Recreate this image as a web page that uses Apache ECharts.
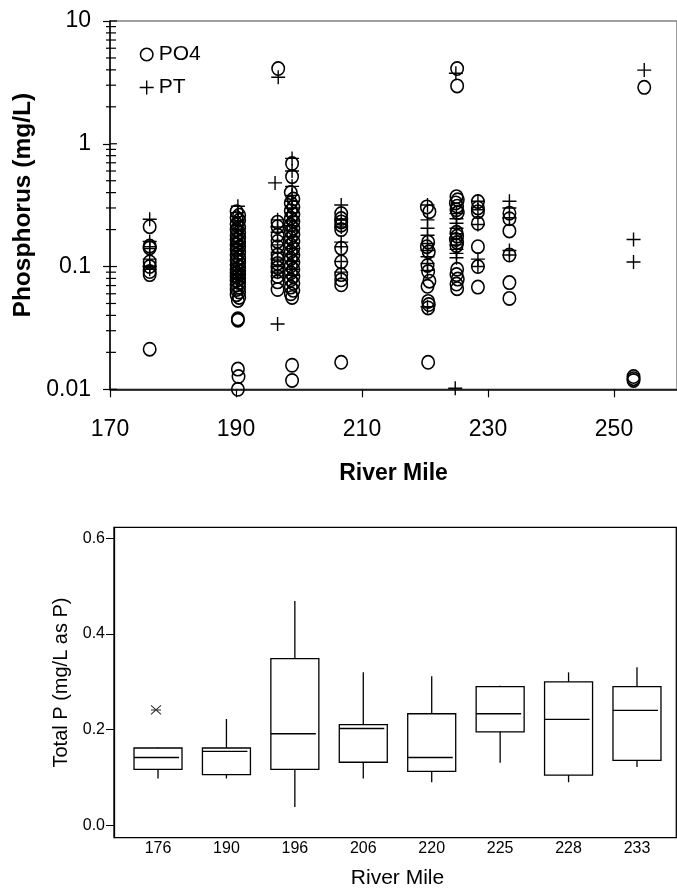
<!DOCTYPE html>
<html>
<head>
<meta charset="utf-8">
<script src="https://cdn.jsdelivr.net/npm/echarts@6/dist/echarts.min.js"></script>
<style>
  html, body { margin: 0; padding: 0; background: #fff; }
  #chart { width: 677px; height: 890px; }
</style>
</head>
<body>
<div id="chart"></div>
<script>
// ---- Upper panel: phosphorus by river mile (log scale) ----
// [river mile, mg/L]
const po4Points = [
  [176.3, 0.211], [176.3, 0.147], [176.3, 0.142], [176.3, 0.109], [176.3, 0.100], [176.3, 0.091], [176.3, 0.086], [176.3, 0.0212],

  [190.1, 0.280], [190.5, 0.262], [190.1, 0.250], [190.5, 0.238], [190.1, 0.222], [190.5, 0.210], [190.1, 0.200], [190.5, 0.190],
  [190.1, 0.180], [190.5, 0.172], [190.1, 0.165], [190.5, 0.158], [190.1, 0.150], [190.5, 0.144], [190.1, 0.138], [190.5, 0.130],
  [190.1, 0.124], [190.5, 0.118], [190.1, 0.113], [190.5, 0.108], [190.1, 0.103], [190.5, 0.099], [190.1, 0.095], [190.5, 0.092],
  [190.1, 0.089], [190.5, 0.086], [190.1, 0.083], [190.5, 0.080], [190.1, 0.077], [190.5, 0.074], [190.1, 0.071], [190.5, 0.068],
  [190.1, 0.065], [190.5, 0.062], [190.1, 0.059], [190.5, 0.056], [190.3, 0.053], [190.3, 0.0375], [190.3, 0.0365],
  [190.3, 0.0146], [190.4, 0.0127], [190.3, 0.0100],

  [196.7, 4.10], [196.6, 0.230], [196.6, 0.211], [196.6, 0.180], [196.6, 0.160], [196.6, 0.145], [196.6, 0.124], [196.6, 0.115],
  [196.6, 0.106], [196.6, 0.098], [196.6, 0.091], [196.6, 0.083], [196.6, 0.075], [196.6, 0.065],

  [198.9, 0.690], [198.9, 0.540], [198.7, 0.400], [199.1, 0.355], [198.7, 0.330], [199.1, 0.305], [198.7, 0.285], [199.1, 0.265],
  [198.7, 0.248], [199.1, 0.232], [198.7, 0.218], [199.1, 0.205], [198.7, 0.193], [199.1, 0.182], [198.7, 0.171], [199.1, 0.160],
  [198.7, 0.150], [199.1, 0.141], [198.7, 0.132], [199.1, 0.124], [198.7, 0.116], [199.1, 0.108], [198.7, 0.101], [199.1, 0.095],
  [198.7, 0.089], [199.1, 0.083], [198.7, 0.078], [199.1, 0.073], [198.7, 0.068], [199.1, 0.064], [198.7, 0.060], [198.9, 0.056],
  [198.9, 0.0157], [198.9, 0.0118],

  [206.7, 0.270], [206.7, 0.246], [206.7, 0.231], [206.7, 0.217], [206.7, 0.200], [206.7, 0.141], [206.7, 0.109], [206.7, 0.086],
  [206.7, 0.078], [206.7, 0.071], [206.7, 0.0166],

  [220.3, 0.306], [220.7, 0.280], [220.5, 0.158], [220.3, 0.145], [220.6, 0.132], [220.4, 0.102], [220.5, 0.091], [220.7, 0.076],
  [220.4, 0.069], [220.5, 0.052], [220.6, 0.049], [220.5, 0.046], [220.5, 0.0166],

  [225.1, 4.10], [225.1, 2.96], [225.0, 0.371], [225.2, 0.350], [224.9, 0.330], [225.1, 0.310], [225.0, 0.290], [225.2, 0.275],
  [225.0, 0.190], [225.1, 0.177], [224.9, 0.166], [225.1, 0.157], [225.0, 0.148], [225.1, 0.095], [225.0, 0.086], [225.2, 0.079],
  [225.0, 0.072], [225.1, 0.066],

  [228.4, 0.338], [228.4, 0.300], [228.4, 0.280], [228.4, 0.225], [228.4, 0.145], [228.4, 0.100], [228.4, 0.068],

  [233.4, 0.272], [233.4, 0.245], [233.4, 0.195], [233.4, 0.124], [233.4, 0.074], [233.4, 0.055],

  [253.1, 0.0127], [253.1, 0.0122], [253.1, 0.0118],
  [254.8, 2.88]
];

const ptPoints = [
  [176.3, 0.243], [176.3, 0.160], [176.3, 0.145], [176.3, 0.140], [176.3, 0.115], [176.3, 0.100], [176.3, 0.095],

  [190.3, 0.310], [190.3, 0.275], [190.3, 0.255], [190.3, 0.235], [190.3, 0.215], [190.3, 0.200], [190.3, 0.185], [190.3, 0.170],
  [190.3, 0.160], [190.3, 0.152], [190.3, 0.145], [190.3, 0.135], [190.3, 0.125], [190.3, 0.115], [190.3, 0.105], [190.3, 0.098],
  [190.3, 0.092], [190.3, 0.086], [190.3, 0.080], [190.3, 0.075],

  [196.7, 3.48], [196.2, 0.480], [196.6, 0.240], [196.6, 0.210], [196.6, 0.190], [196.6, 0.150], [196.6, 0.130], [196.6, 0.115],
  [196.6, 0.100], [196.6, 0.090], [196.6, 0.034],

  [198.9, 0.760], [198.9, 0.600], [198.9, 0.450], [198.9, 0.380], [198.9, 0.340], [198.9, 0.300], [198.9, 0.275], [198.9, 0.255],
  [198.9, 0.235], [198.9, 0.215], [198.9, 0.195], [198.9, 0.175], [198.9, 0.155], [198.9, 0.140], [198.9, 0.125], [198.9, 0.110],
  [198.9, 0.095], [198.9, 0.085],

  [206.7, 0.317], [206.7, 0.240], [206.7, 0.210], [206.7, 0.158], [206.7, 0.145], [206.7, 0.110], [206.7, 0.090],

  [220.4, 0.317], [220.4, 0.240], [220.4, 0.205], [220.4, 0.180], [220.4, 0.154], [220.4, 0.135], [220.4, 0.120], [220.4, 0.106],
  [220.4, 0.093], [220.4, 0.047],

  [224.9, 3.75], [225.0, 0.270], [225.0, 0.245], [225.0, 0.225], [225.0, 0.205], [225.0, 0.185], [225.0, 0.168], [225.0, 0.150],
  [225.0, 0.138], [225.0, 0.128], [225.0, 0.118], [224.8, 0.0102],

  [228.4, 0.340], [228.4, 0.290], [228.4, 0.220], [228.4, 0.115], [228.4, 0.100],

  [233.4, 0.340], [233.4, 0.300], [233.4, 0.250], [233.4, 0.135], [233.4, 0.124],

  [253.1, 0.166], [253.1, 0.109],
  [254.8, 3.98]
];

const mileTicks = [170, 190, 210, 230, 250];
const logDecades = [0.01, 0.1, 1, 10];
const logMinorSteps = [2, 3, 4, 5, 6, 7, 8, 9];

// ---- Lower panel: total P box plots by station ----
const stations = ['176', '190', '196', '206', '220', '225', '228', '233'];
// [low whisker, Q1, median, Q3, high whisker]
const boxStats = [
  [0.095, 0.114, 0.139, 0.159, 0.160],
  [0.095, 0.103, 0.152, 0.159, 0.220],
  [0.035, 0.114, 0.189, 0.347, 0.468],
  [0.095, 0.129, 0.200, 0.208, 0.318],
  [0.087, 0.110, 0.139, 0.231, 0.310],
  [0.128, 0.193, 0.231, 0.288, 0.290],
  [0.087, 0.102, 0.219, 0.298, 0.318],
  [0.119, 0.133, 0.238, 0.288, 0.329]
];
const outliers = [[0, 0.239]];
const totalPTicks = [0, 0.2, 0.4, 0.6];

const FONT = '"Liberation Sans", Arial, Helvetica, sans-serif';
const RING = 'path://M0,50A50,50 0 1,1 100,50A50,50 0 1,1 0,50ZM11,50A39,39 0 1,0 89,50A39,39 0 1,0 11,50Z';
const PLUS = 'path://M45,0h10v45h45v10h-45v45h-10v-45h-45v-10h45z';
const STAR = 'path://M0,0L10,10M10,0L0,10M0,5L10,5';

// log axis tick marks drawn across the axis line (minor 2..9, plus inner half of majors)
const yTickMarks = [];
logDecades.forEach(d => yTickMarks.push([170, d, 1]));
logDecades.slice(0, 3).forEach(d => logMinorSteps.forEach(s => yTickMarks.push([170, +(d * s).toPrecision(3), 0])));

const chart = echarts.init(document.getElementById('chart'));

const axisLineBlack = { show: true, lineStyle: { color: '#000', width: 1.5 } };

chart.setOption({
  animation: false,
  backgroundColor: '#fff',
  textStyle: { fontFamily: FONT, color: '#000' },
  legend: {
    data: ['PO4', 'PT'],
    orient: 'vertical',
    left: 139.7,
    top: 44,
    padding: 0,
    itemWidth: 14,
    itemHeight: 15,
    itemGap: 12,
    selectedMode: false,
    textStyle: { fontFamily: FONT, fontSize: 21, lineHeight: 21, color: '#000' }
  },
  grid: [
    { left: 110, top: 21, right: -4.5, height: 368.3, show: true, borderColor: '#808080', borderWidth: 1.5, backgroundColor: 'transparent' },
    { left: 114, top: 527.3, right: 0.7, height: 310.4, show: true, borderColor: '#000', borderWidth: 1.3, backgroundColor: 'transparent' },
    { left: 123.8, top: 527.3, right: 5.8, height: 310.4 }
  ],
  xAxis: [
    {
      gridIndex: 0, type: 'value', min: 170, max: 260, interval: 20,
      name: 'River Mile', nameLocation: 'middle', nameGap: 72.5,
      nameTextStyle: { fontFamily: FONT, fontSize: 23, fontWeight: 'bold', color: '#000' },
      axisLine: axisLineBlack,
      axisTick: { length: 8, lineStyle: { color: '#000', width: 1.2 } },
      axisLabel: {
        fontFamily: FONT, fontSize: 23, color: '#000', margin: 29, showMaxLabel: false,
        formatter: v => (mileTicks.indexOf(v) >= 0 ? String(v) : '')
      },
      splitLine: { show: false }
    },
    { gridIndex: 1, type: 'value', min: 0, max: 1, show: false },
    {
      gridIndex: 2, type: 'category', data: stations,
      axisLine: { show: false }, axisTick: { show: false },
      axisLabel: { fontFamily: FONT, fontSize: 16, color: '#000', margin: 5 },
      name: 'River Mile', nameLocation: 'middle', nameGap: 32,
      nameTextStyle: { fontFamily: FONT, fontSize: 21, color: '#000' }
    }
  ],
  yAxis: [
    {
      gridIndex: 0, type: 'log', logBase: 10, min: 0.01, max: 10,
      name: 'Phosphorus (mg/L)', nameLocation: 'middle', nameGap: 73,
      nameTextStyle: { fontFamily: FONT, fontSize: 24.5, fontWeight: 'bold', color: '#000' },
      axisLine: axisLineBlack,
      axisTick: { length: 7, lineStyle: { color: '#000', width: 1.2 } },
      axisLabel: {
        fontFamily: FONT, fontSize: 23, color: '#000', margin: 19,
        formatter: v => (v >= 1 ? String(Math.round(v)) : String(+v.toPrecision(1)))
      },
      splitLine: { show: false }
    },
    {
      gridIndex: 1, type: 'value', min: -0.026, max: 0.623,
      name: 'Total P (mg/L as P)', nameLocation: 'middle', nameGap: 38,
      nameTextStyle: { fontFamily: FONT, fontSize: 20, color: '#000' },
      axisLine: { show: true, lineStyle: { color: '#000', width: 1.3 } },
      axisTick: { length: 8, customValues: totalPTicks, lineStyle: { color: '#000', width: 1 } },
      axisLabel: {
        fontFamily: FONT, fontSize: 16, color: '#000', margin: 9,
        customValues: totalPTicks, formatter: v => v.toFixed(1)
      },
      splitLine: { show: false }
    },
    { gridIndex: 2, type: 'value', min: -0.026, max: 0.623, show: false }
  ],
  series: [
    {
      name: 'PO4', type: 'scatter', xAxisIndex: 0, yAxisIndex: 0,
      data: po4Points, symbol: RING, symbolSize: [14, 15], clip: false,
      itemStyle: { color: '#000', opacity: 1 }
    },
    {
      name: 'PT', type: 'scatter', xAxisIndex: 0, yAxisIndex: 0,
      data: ptPoints, symbol: PLUS, symbolSize: [14, 14], clip: false,
      itemStyle: { color: '#000', opacity: 1 }
    },
    {
      type: 'custom', xAxisIndex: 0, yAxisIndex: 0, silent: true, clip: false, z: 5,
      data: yTickMarks, encode: { x: 0, y: 1 },
      renderItem: (params, api) => {
        const p = api.coord([api.value(0), api.value(1)]);
        const major = api.value(2) === 1;
        return {
          type: 'line',
          shape: { x1: p[0] - (major ? 0 : 4), y1: p[1], x2: p[0] + (major ? 7 : 6), y2: p[1] },
          style: { stroke: '#000', lineWidth: 1.2 }
        };
      }
    },
    {
      type: 'custom', xAxisIndex: 2, yAxisIndex: 2, silent: true,
      data: boxStats.map((s, i) => [i].concat(s)),
      encode: { x: 0, y: [1, 2, 3, 4, 5] },
      renderItem: (params, api) => {
        const i = api.value(0);
        const half = 24;
        const lo = api.coord([i, api.value(1)]);
        const q1 = api.coord([i, api.value(2)]);
        const md = api.coord([i, api.value(3)]);
        const q3 = api.coord([i, api.value(4)]);
        const hi = api.coord([i, api.value(5)]);
        const x = lo[0];
        const st = { stroke: '#000', lineWidth: 1.3, fill: null };
        return {
          type: 'group',
          children: [
            { type: 'line', shape: { x1: x, y1: q3[1], x2: x, y2: hi[1] }, style: st },
            { type: 'line', shape: { x1: x, y1: q1[1], x2: x, y2: lo[1] }, style: st },
            { type: 'rect', shape: { x: x - half, y: q3[1], width: half * 2, height: q1[1] - q3[1] }, style: { stroke: '#000', lineWidth: 1.3, fill: 'transparent' } },
            { type: 'line', shape: { x1: x - half, y1: md[1], x2: x + half - 3, y2: md[1] }, style: st }
          ]
        };
      }
    },
    {
      type: 'scatter', xAxisIndex: 2, yAxisIndex: 2, silent: true,
      data: outliers, symbol: STAR, symbolSize: [10, 9], symbolOffset: [-2, 0],
      itemStyle: { color: '#000', borderColor: '#000', borderWidth: 1 }
    }
  ]
});
</script>
</body>
</html>
